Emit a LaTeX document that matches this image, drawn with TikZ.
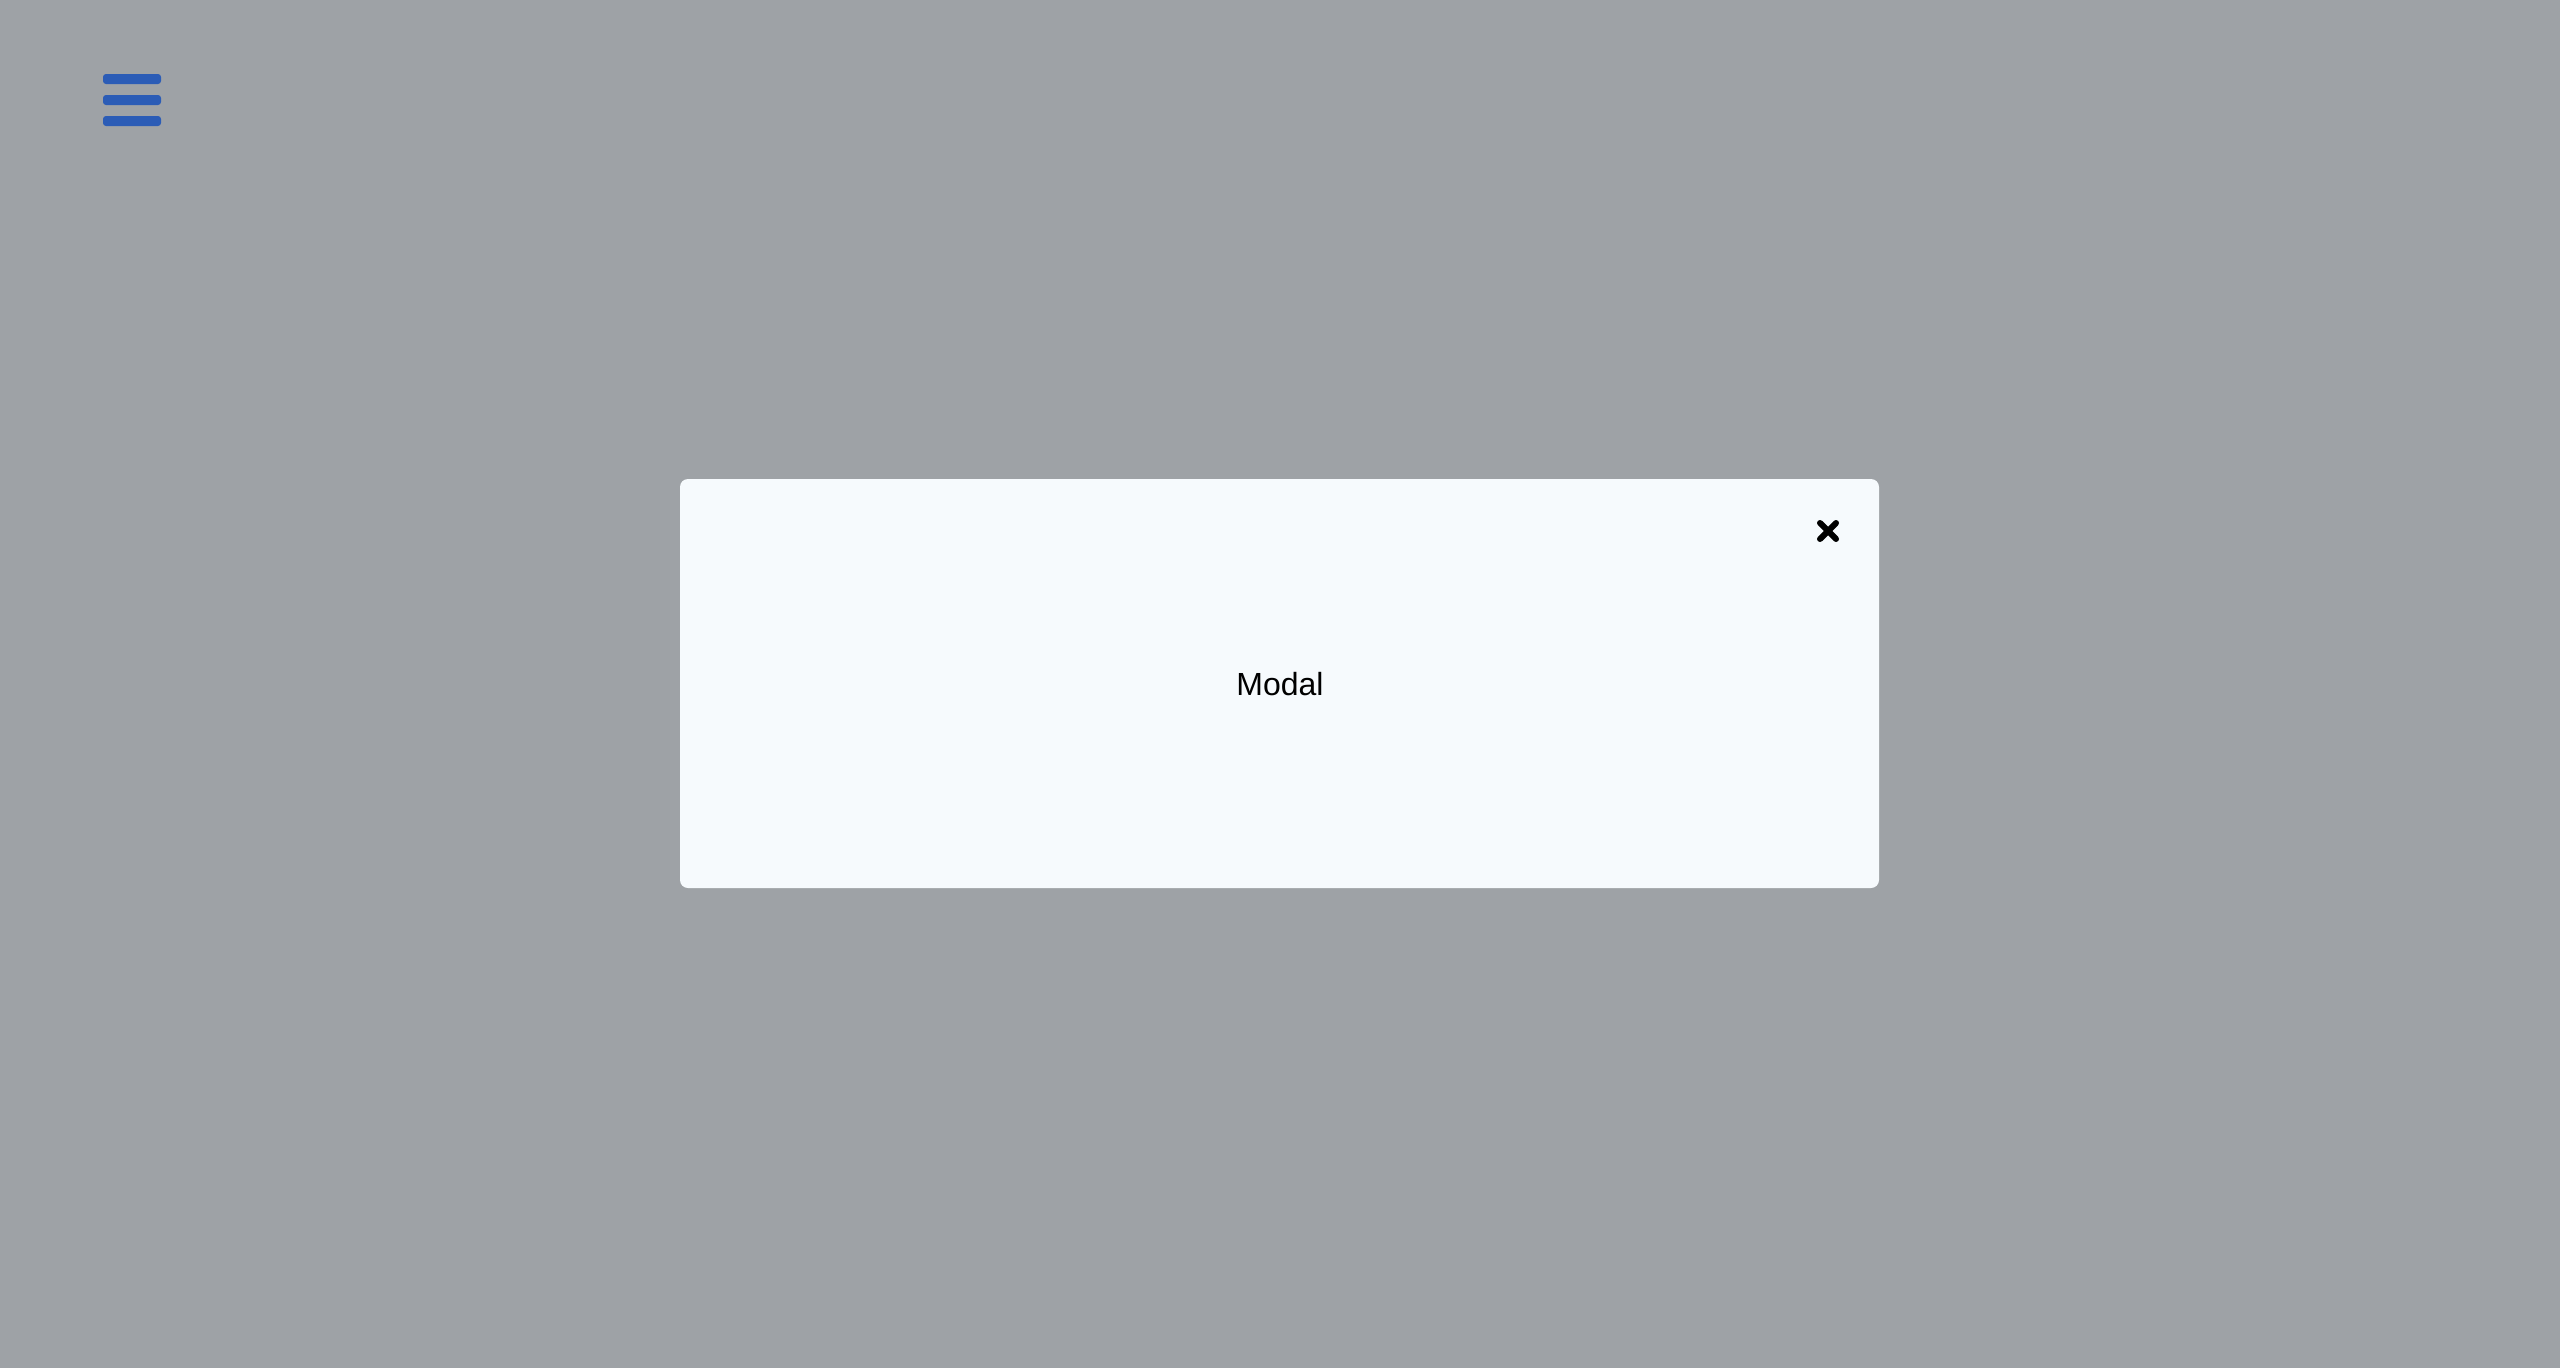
\documentclass[tikz,border=0pt]{standalone}
\usepackage{fontspec}
\setmainfont{Liberation Sans}
\definecolor{bgc}{RGB}{158,162,166}
\definecolor{modalc}{RGB}{246,250,253}
\definecolor{barc}{RGB}{43,92,182}
\tikzset{
  px/.style={x=1pt,y=-1pt},
  bar/.style={fill=barc,rounded corners=3pt},
  closex/.style={line width=6pt,line cap=round,black},
}
\begin{document}
\begin{tikzpicture}[px]
\fill[bgc] (0,0) rectangle (2560,1368);
\useasboundingbox (0,0) rectangle (2560,1368);
% hamburger
\fill[bar] (103,74) rectangle (161,84);
\fill[bar] (103,95) rectangle (161,105);
\fill[bar] (103,116) rectangle (161,126);
% modal
\node[draw=none,fill=modalc,rounded corners=8pt,minimum width=1199pt,minimum height=409pt,inner sep=0pt] (modal) at (1279.5,683.5) {};
\node[anchor=base,font=\fontsize{32pt}{38pt}\selectfont,inner sep=0pt] (title) at (1280,695) {Modal};
% close
\coordinate (xc) at (1828,531);
\draw[closex] ([shift={(-8,-8)}]xc) -- ([shift={(8,8)}]xc);
\draw[closex] ([shift={(-8,8)}]xc) -- ([shift={(8,-8)}]xc);
\end{tikzpicture}
\end{document}
